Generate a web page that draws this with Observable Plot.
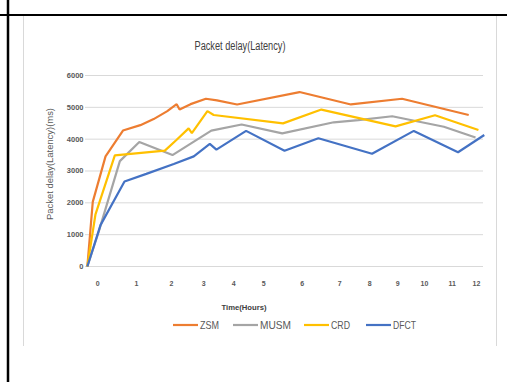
<!DOCTYPE html>
<html>
<head>
<meta charset="utf-8">
<script src="https://cdn.jsdelivr.net/npm/d3@7"></script>
<script src="https://cdn.jsdelivr.net/npm/@observablehq/plot@0.6"></script>
<style>
  html, body { margin: 0; padding: 0; background: #fff; }
  #chart { position: relative; width: 507px; height: 382px; overflow: hidden; }
  #chart svg { display: block; }
</style>
</head>
<body>
<div id="chart"></div>
<script>
// Series names and colours
const seriesNames = ["ZSM", "MUSM", "CRD", "DFCT"];
const seriesColors = ["#ED7D31", "#A5A5A5", "#FFC000", "#4472C4"];

// Time axis ticks (hours) and delay axis ticks (ms)
const hourTicks = [0, 1, 2, 3, 4, 5, 6, 7, 8, 9, 10, 11, 12];
const delayTicks = [0, 1000, 2000, 3000, 4000, 5000, 6000];

// Packet delay per series: time (hours) and delay (ms)
const zsmHours  = [-0.27, -0.13, 0.2, 0.65, 1.11, 1.49, 1.88, 2.16, 2.25, 2.59, 3.07, 3.44, 4.11, 5.93, 7.37, 9.16, 11.68];
const zsmDelay  = [0, 2030, 3460, 4270, 4440, 4630, 4880, 5100, 4930, 5100, 5270, 5220, 5090, 5480, 5090, 5270, 4760];

const musmHours = [-0.27, 0.03, 0.57, 1.08, 2.03, 3.25, 4.26, 5.48, 6.84, 7.62, 8.8, 10.7, 11.96];
const musmDelay = [0, 1120, 3310, 3910, 3500, 4270, 4460, 4180, 4530, 4600, 4720, 4390, 4050];

const crdHours  = [-0.27, -0.06, 0.44, 1.81, 2.16, 2.53, 2.63, 3.12, 3.33, 5.5, 6.51, 8.92, 10.38, 12.08];
const crdDelay  = [0, 1640, 3490, 3640, 3980, 4340, 4190, 4880, 4760, 4495, 4930, 4400, 4750, 4290];

const dfctHours = [-0.27, 0.07, 0.69, 1.28, 2.07, 2.69, 3.2, 3.42, 4.41, 5.54, 6.43, 8.08, 9.6, 11.24, 12.32];
const dfctDelay = [0, 1300, 2670, 2910, 3220, 3460, 3850, 3670, 4260, 3635, 4030, 3540, 4260, 3590, 4130];

const seriesHours = [zsmHours, musmHours, crdHours, dfctHours];
const seriesDelay = [zsmDelay, musmDelay, crdDelay, dfctDelay];

// Long-format table for Plot
const rows = seriesNames.flatMap((name, i) =>
  seriesHours[i].map((h, k) => ({series: name, hour: h, delay: seriesDelay[i][k]}))
);

// The hour labels sit at uneven screen positions, so the x scale is piecewise
const hourTickPos = [97.3, 136, 171, 203.3, 233.3, 263.3, 301.7, 339.3, 369.3, 397.3, 424, 451.7, 476];

const W = 507, H = 382;
const labelFill = "#595959";

const chart = Plot.plot({
  width: W,
  height: H,
  marginLeft: 85,
  marginRight: 24,
  marginTop: 75,
  marginBottom: 116,
  style: {background: "#fff", fontFamily: "'Liberation Sans', Arial, sans-serif", overflow: "visible"},
  x: {type: "linear", domain: hourTicks, range: hourTickPos},
  y: {domain: [0, 6000]},
  color: {domain: seriesNames, range: seriesColors},
  marks: [
    Plot.gridY(delayTicks, {stroke: "#d9d9d9", strokeOpacity: 1, strokeWidth: 1}),
    Plot.axisY(delayTicks, {
      tickSize: 0, tickPadding: 2, label: null, tickFormat: d => String(d),
      fontSize: 7.5, fontWeight: "bold", fill: labelFill
    }),
    Plot.axisX(hourTicks, {
      tickSize: 0, tickPadding: 15, label: null, tickFormat: d => String(d),
      fontSize: 7, fontWeight: "bold", fill: labelFill
    }),
    Plot.line(rows, {
      x: "hour", y: "delay", z: "series", stroke: "series",
      strokeWidth: 2.2, strokeLinejoin: "miter", strokeLinecap: "butt"
    })
  ]
});

document.getElementById("chart").appendChild(chart);

// Page furniture: frame lines, chart border, titles and legend
const svg = d3.select(chart);
const deco = svg.append("g")
  .attr("font-family", "'Liberation Sans Narrow', 'Liberation Sans', Arial, sans-serif");

// Light grey chart-area border
deco.append("line").attr("x1", 23.5).attr("x2", 23.5).attr("y1", 16).attr("y2", 346)
  .attr("stroke", "#d9d9d9").attr("stroke-width", 1);
deco.append("line").attr("x1", 496.5).attr("x2", 496.5).attr("y1", 16).attr("y2", 346)
  .attr("stroke", "#d9d9d9").attr("stroke-width", 1);

// Black page rules
deco.append("line").attr("x1", 0).attr("x2", W).attr("y1", 15).attr("y2", 15)
  .attr("stroke", "#000").attr("stroke-width", 2);
deco.append("line").attr("x1", 8).attr("x2", 8).attr("y1", 0).attr("y2", H)
  .attr("stroke", "#000").attr("stroke-width", 2.5);

// Chart title
deco.append("text").attr("x", 240).attr("y", 50).attr("text-anchor", "middle")
  .attr("font-size", 12).attr("fill", "#404040")
  .attr("textLength", 91).attr("lengthAdjust", "spacingAndGlyphs")
  .text("Packet delay(Latency)");

// Y axis title
deco.append("text").attr("transform", "translate(53,164) rotate(-90)")
  .attr("text-anchor", "middle").attr("font-family", "'Liberation Sans', Arial, sans-serif")
  .attr("font-size", 9).attr("fill", labelFill)
  .attr("textLength", 112).attr("lengthAdjust", "spacingAndGlyphs")
  .text("Packet delay(Latency)(ms)");

// X axis title
deco.append("text").attr("x", 244).attr("y", 310).attr("text-anchor", "middle")
  .attr("font-family", "'Liberation Sans', Arial, sans-serif")
  .attr("font-size", 8).attr("font-weight", "bold").attr("fill", "#404040")
  .attr("textLength", 45).attr("lengthAdjust", "spacingAndGlyphs")
  .text("Time(Hours)");

// Legend
const legendX = [173, 233, 304, 366];
const legendTextW = [19, 31, 19, 23];
const legendY = 325;
const legend = deco.append("g").attr("text-anchor", "start");
seriesNames.forEach((name, i) => {
  legend.append("line")
    .attr("x1", legendX[i]).attr("x2", legendX[i] + 25)
    .attr("y1", legendY).attr("y2", legendY)
    .attr("stroke", seriesColors[i]).attr("stroke-width", 2.2);
  legend.append("text")
    .attr("x", legendX[i] + 27).attr("y", legendY + 4)
    .attr("text-anchor", "start")
    .attr("font-size", 11).attr("fill", labelFill)
    .attr("textLength", legendTextW[i]).attr("lengthAdjust", "spacingAndGlyphs")
    .text(name);
});
</script>
</body>
</html>
